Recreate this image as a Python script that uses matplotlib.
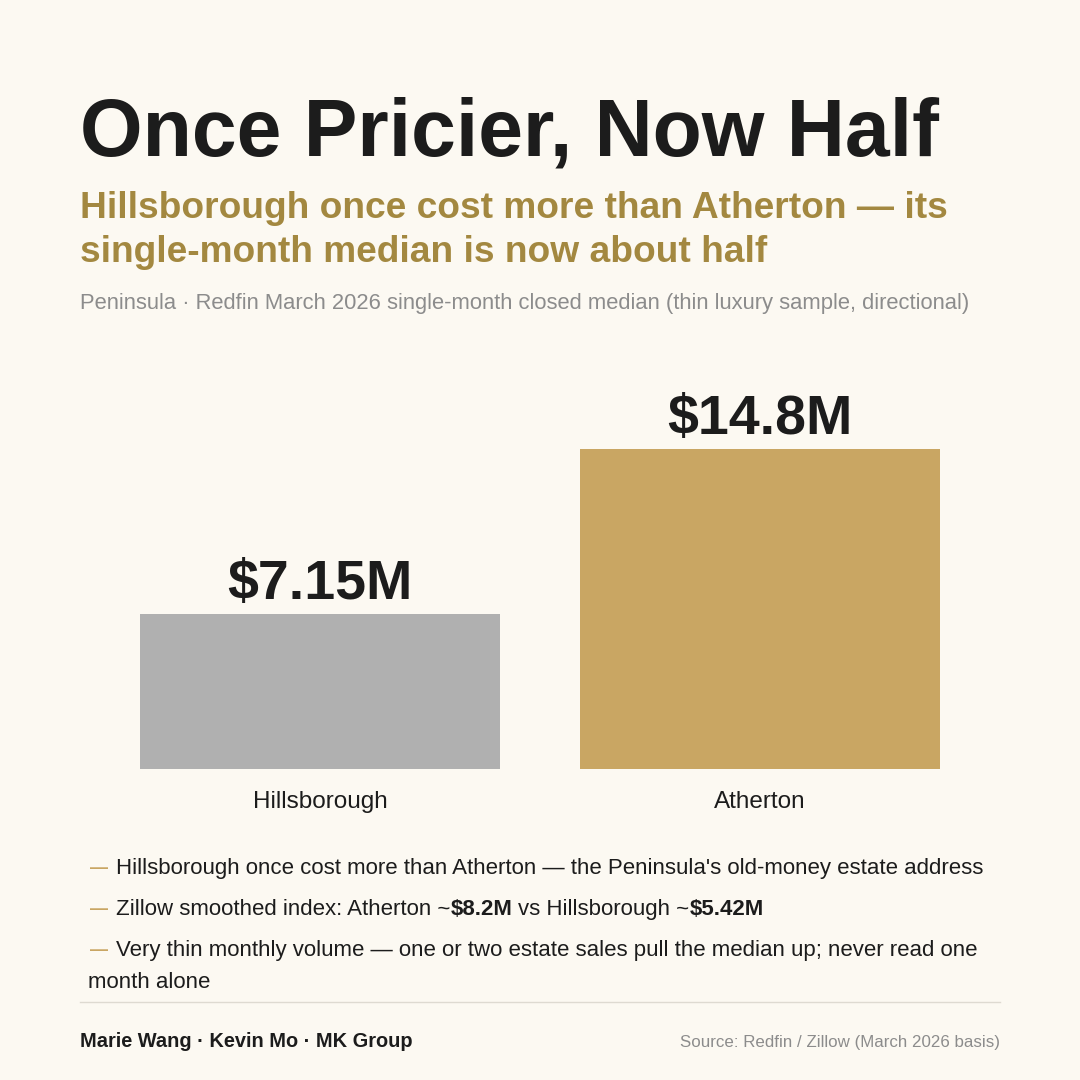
import matplotlib
matplotlib.use("Agg")
import matplotlib.pyplot as plt

plt.rcParams['font.family'] = ['Liberation Sans', 'DejaVu Sans']

BG = "#FCF9F2"
INK = "#1C1C1C"
GOLD = "#A38840"
DASH_GOLD = "#C9A663"
GREY_TXT = "#8C8C8C"

# data
cities = ["Hillsborough", "Atherton"]
medians = [7.15, 14.8]          # $M, Redfin March 2026 single-month closed median
value_labels = ["$7.15M", "$14.8M"]
bar_colors = ["#B0B0B0", "#C9A663"]

title = "Once Pricier, Now Half"
subtitle = ["Hillsborough once cost more than Atherton \u2014 its",
            "single-month median is now about half"]
note = "Peninsula \u00b7 Redfin March 2026 single-month closed median (thin luxury sample, directional)"

bullets = [
    [("Hillsborough once cost more than Atherton \u2014 the Peninsula's old-money estate address", "normal")],
    [("Zillow smoothed index: Atherton ~", "normal"), ("$8.2M", "bold"),
     (" vs Hillsborough ~", "normal"), ("$5.42M", "bold")],
    [("Very thin monthly volume \u2014 one or two estate sales pull the median up; never read one", "normal")],
]
bullet_wrap = "month alone"
credit = "Marie Wang \u00b7 Kevin Mo \u00b7 MK Group"
source = "Source: Redfin / Zillow (March 2026 basis)"

W = H = 1080
fig = plt.figure(figsize=(10.8, 10.8), dpi=100)
fig.patch.set_facecolor(BG)


def fx(px):
    return px / W


def fy(py):
    return 1 - py / H


# bar chart
ax = fig.add_axes([fx(80), fy(769), fx(920), (769 - 380) / H])
ax.set_facecolor(BG)
xpos = list(range(len(cities)))
ax.bar(xpos, medians, width=360 / 440, color=bar_colors)
ax.set_xlim(-240 / 440, 1 + 240 / 440)
ax.set_ylim(0, 18)
ax.axis("off")
for x, v, lab in zip(xpos, medians, value_labels):
    ax.annotate(lab, (x, v), xytext=(0, 15 * 72 / 100), textcoords="offset points",
                ha="center", va="baseline", fontsize=40, fontweight="bold", color=INK)
    ax.annotate(cities[x], (x, 0), xytext=(0, -39 * 72 / 100), textcoords="offset points",
                ha="center", va="baseline", fontsize=17.5, color=INK)

# header
fig.text(fx(80), fy(155), title, fontsize=58, fontweight="bold", color=INK, va="baseline")
fig.text(fx(80), fy(218), subtitle[0], fontsize=26.7, fontweight="bold", color=GOLD, va="baseline")
fig.text(fx(80), fy(262), subtitle[1], fontsize=26.7, fontweight="bold", color=GOLD, va="baseline")
fig.text(fx(80), fy(309), note, fontsize=15.8, color=GREY_TXT, va="baseline")

renderer = fig.canvas.get_renderer()


def text_w(s, weight, size):
    t = fig.text(0, 0, s, fontsize=size, fontweight=weight)
    w = t.get_window_extent(renderer).width
    t.remove()
    return w


def draw_runs(x, y, runs, size, color):
    for s, wt in runs:
        sp = text_w("a a", wt, size) - text_w("aa", wt, size)
        lead = len(s) - len(s.lstrip(" "))
        trail = len(s) - len(s.rstrip(" "))
        x += lead * sp
        t = fig.text(fx(x), fy(y), s.strip(" "), fontsize=size, fontweight=wt,
                     color=color, va="baseline")
        x += t.get_window_extent(renderer).width + trail * sp


# notes
baselines = [874, 915, 956]
for y, runs in zip(baselines, bullets):
    fig.text(fx(90), fy(y - 1), "\u2014", fontsize=13, fontweight="bold",
             color=DASH_GOLD, va="baseline")
    draw_runs(116, y, runs, 16, INK)
fig.text(fx(88), fy(988), bullet_wrap, fontsize=16, color=INK, va="baseline")

# footer
fig.add_artist(plt.Line2D([fx(80), fx(1000)], [fy(1002), fy(1002)], color="#DEDAD1", lw=1))
fig.text(fx(80), fy(1047), credit, fontsize=14.4, fontweight="bold", color=INK, va="baseline")
fig.text(fx(1000), fy(1047), source, fontsize=12.2, color=GREY_TXT, va="baseline", ha="right")

fig.savefig("out.png", dpi=100, facecolor=BG)
